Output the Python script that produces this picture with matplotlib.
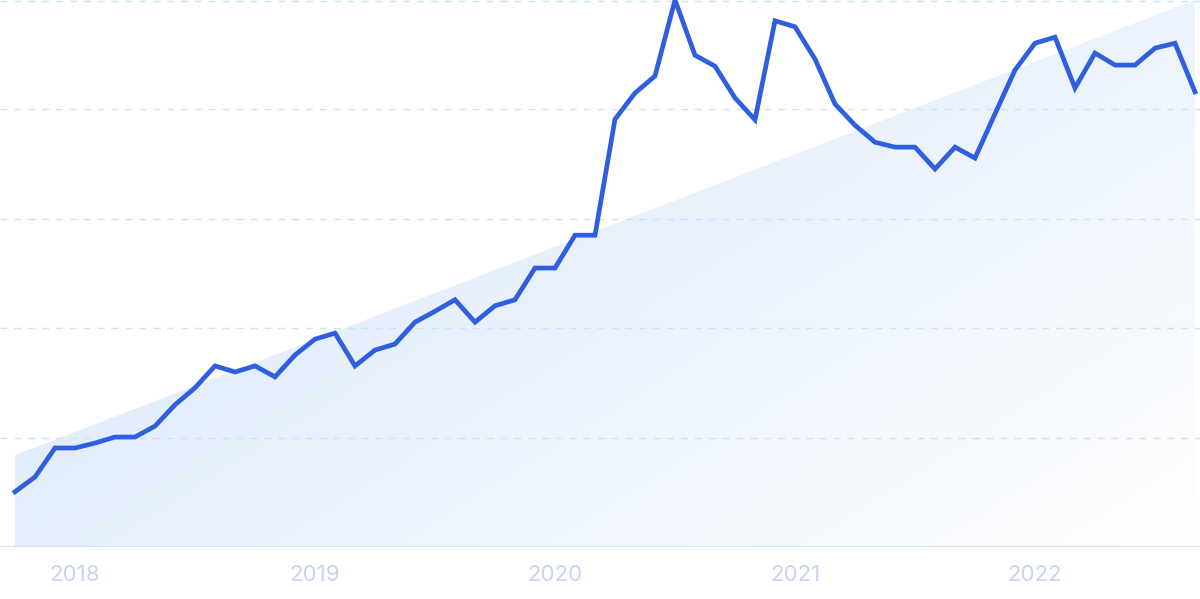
import numpy as np
import matplotlib
matplotlib.use("Agg")
import matplotlib.pyplot as plt
from matplotlib.patches import Polygon
from matplotlib.colors import LinearSegmentedColormap

# Monthly values, Oct 2017 .. Sep 2022 (pixel-read, scaled 0-100)
values_px = [492, 477, 448, 448, 443, 437, 437, 426, 405, 388,
             366, 372, 366, 377, 355, 339, 333, 366, 350, 344,
             322, 311, 300, 322, 306, 300, 268, 268, 235, 235,
             119, 93, 76, 0, 55, 66, 98, 120, 21, 27,
             59, 104, 125, 142, 147, 147, 169, 147, 158, 114,
             70, 43, 37, 88, 53, 65, 65, 48, 43, 92]
values = [round((547 - v) / 5.47, 1) for v in values_px]
trend_start = 16.8
trend_end = 100.0
year_labels = ["2018", "2019", "2020", "2021", "2022"]
year_index = [3, 15, 27, 39, 51]  # January of each year

n = len(values)
x = np.arange(n)

fig = plt.figure(figsize=(12, 5.99), dpi=100)
ax = fig.add_axes([0, 52 / 599, 1, 547 / 599])
ax.set_xlim(-0.75, 59.25)
ax.set_ylim(0, 100)

# gradient trend area
grad = LinearSegmentedColormap.from_list("g", ["#dbe8f9", "#e8f1fc", "#ffffff"])
gx, gy = np.meshgrid(np.linspace(0, 1, 300), np.linspace(0, 1, 300))
gz = (gx * 0.75 + (1 - gy) * 0.55)
img = ax.imshow(gz, cmap=grad, extent=[0, n - 1, 0, 100], origin="lower",
                aspect="auto", zorder=1, vmin=0, vmax=1.3)
poly = Polygon([[0, 0], [0, trend_start], [n - 1, trend_end], [n - 1, 0]],
               closed=True, facecolor="none", edgecolor="none")
ax.add_patch(poly)
img.set_clip_path(poly)

for g in [20, 40, 60, 80, 99.8]:
    ax.axhline(g, color="#cce4f7", lw=1, ls=(0, (5, 5)), zorder=2)
ax.axhline(0, color="#d6e2f5", lw=1.5, zorder=2)

ax.plot(x, values, color="#2f5fe0", lw=3.4, solid_joinstyle="miter", zorder=3)

for s in ax.spines.values():
    s.set_visible(False)
ax.set_yticks([])
ax.set_xticks(year_index)
ax.set_xticklabels(year_labels, fontsize=16, color="#c8d3f3", family="Inter")
ax.tick_params(axis="x", length=0, pad=13)

fig.savefig("out.png", dpi=100)
